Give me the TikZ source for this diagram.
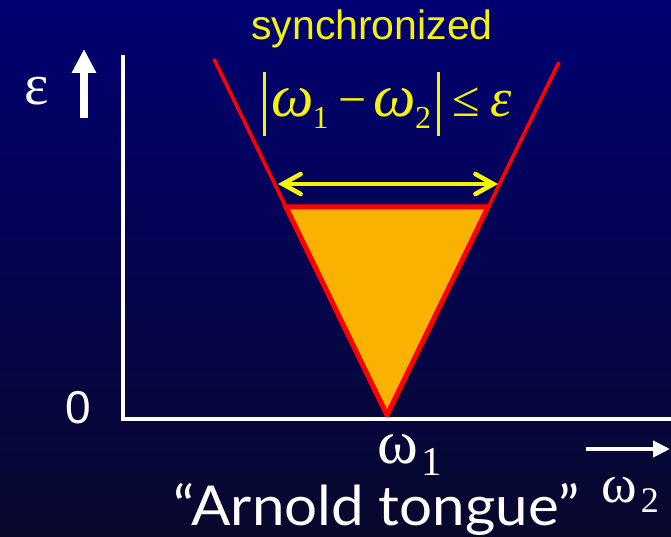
\documentclass[tikz,border=0pt]{standalone}
\usepackage{fontspec}
\setmainfont{Liberation Serif}
\newfontfamily\sansf{Liberation Sans}
\newfontfamily\handf{Lato}
\usetikzlibrary{arrows.meta}
\definecolor{bgtop}{RGB}{0,0,115}
\definecolor{bgbot}{RGB}{8,8,44}
\definecolor{tongue}{RGB}{249,178,0}
\definecolor{tred}{RGB}{255,0,0}
\definecolor{tyel}{RGB}{245,245,0}
\newcommand{\fs}[1]{\fontsize{#1}{#1}\selectfont}
\begin{document}
\begin{tikzpicture}[x=1pt,y=-1pt,
  lbl/.style={inner sep=0pt, anchor=base},
  axisline/.style={white, line width=4pt},
  redline/.style={tred, line width=3.6pt},
  widthline/.style={tyel, line width=4.5pt, line cap=round,
     {Straight Barb[length=18pt,width=20pt,line cap=round]}-{Straight Barb[length=18pt,width=20pt,line cap=round]}}]
\shade[top color=bgtop, bottom color=bgbot] (0,0) rectangle (671,537);
\useasboundingbox (0,0) rectangle (671,537);
% coordinates
\coordinate (ytop) at (123,55);
\coordinate (origin) at (123,418.5);
\coordinate (xend) at (671,418.5);
\coordinate (apex) at (387,415);
\coordinate (lt) at (214,59);
\coordinate (rt) at (559,62);
\coordinate (tl) at (286,207);
\coordinate (tr) at (488,207);
\coordinate (al) at (278,184);
\coordinate (ar) at (498,184);
\coordinate (ua0) at (84,118);
\coordinate (ua1) at (84,49);
\coordinate (ra0) at (586,449);
\coordinate (ra1) at (670,449);
% tongue
\filldraw[fill=tongue, draw=tred, line width=5pt, line join=miter] (tl) -- (tr) -- (apex) -- cycle;
\draw[redline] (lt) -- (apex) -- (rt);
% axes
\draw[axisline, line join=miter] (ytop) -- (origin) -- (xend);
% axis direction arrows
\draw[white, line width=8pt, -{Triangle[width=23pt,length=24pt]}] (ua0) -- (ua1);
\draw[white, line width=4pt, -{Triangle[width=16pt,length=17pt]}] (ra0) -- (ra1);
% width arrow
\draw[widthline] (al) -- (ar);
% labels
\node[lbl, text=tyel, font=\sansf\fs{41}] (sync) at (372,40) {synchronized};
\node[lbl, anchor=base west, text=tyel, font=\fs{50}] (formula) at (263,117)
  {\rule[-19pt]{3pt}{64pt}\kern5pt{\fs{60}\itshape ω}\kern-1pt\raisebox{-12pt}{\fs{32}1}\kern10pt−\kern7pt{\fs{60}\itshape ω}\kern-1pt\raisebox{-12pt}{\fs{32}2}\kern6pt\rule[-19pt]{3pt}{64pt}\kern12pt≤\kern11pt{\fs{54}\itshape ε}};
\node[lbl, text=white, font=\fs{58}] (eps) at (36.5,105) {ε};
\node[lbl, text=white, font=\sansf\fs{46}] (zero) at (78.5,423) {0};
\node[lbl, anchor=base west, text=white, font=\fs{62}] (w1) at (377,463) {ω\kern3pt\raisebox{-12pt}{\fs{41}1}};
\node[lbl, anchor=base west, text=white, font=\fs{54}] (w2) at (601,502) {ω\kern4pt\raisebox{-10pt}{\fs{36}2}};
\node[lbl, text=white, font=\handf\fs{55}, text height=37pt] (arnold) at (376.5,525) {\scalebox{1.06}[1]{“Arnold tongue”}};
\end{tikzpicture}
\end{document}
